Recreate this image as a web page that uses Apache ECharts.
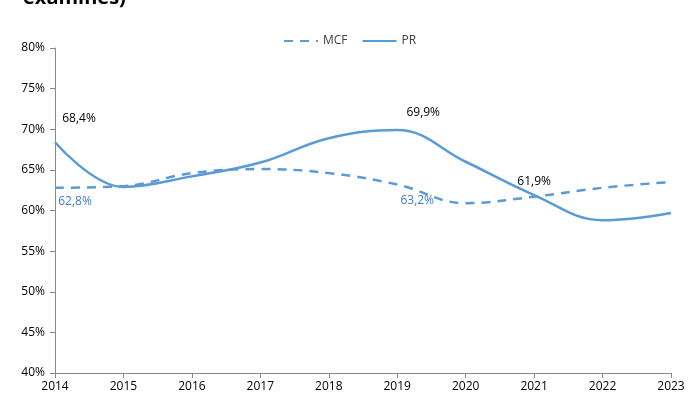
<!DOCTYPE html>
<html>
<head>
<meta charset="utf-8">
<script src="https://cdn.jsdelivr.net/npm/echarts@6/dist/echarts.min.js"></script>
<style>
  html, body { margin: 0; padding: 0; background: #fff; }
  #chart { width: 688px; height: 403px; }
</style>
</head>
<body>
<div id="chart"></div>
<script>
const years = ['2014', '2015', '2016', '2017', '2018', '2019', '2020', '2021', '2022', '2023'];
const mcfValues = [62.8, 63.0, 64.6, 65.1, 64.6, 63.2, 60.9, 61.7, 62.8, 63.5];
const prValues = [68.4, 62.9, 64.2, 65.9, 68.9, 69.9, 66.0, 61.9, 58.8, 59.7];
// which points carry a value label
const mcfLabelAt = [0, 5];
const prLabelAt = [0, 5, 7];

const blue = '#5B9BD5';
const fontFamily = '"Open Sans", "Noto Sans", sans-serif';

function fmt(v) {
  return v.toFixed(1).replace('.', ',') + '%';
}

function withLabels(values, idxs, labelStyle) {
  return values.map((v, i) => {
    if (idxs.indexOf(i) < 0) return v;
    return { value: v, label: Object.assign({ show: true, formatter: p => fmt(p.value) }, labelStyle(i)) };
  });
}

const chart = echarts.init(document.getElementById('chart'));

chart.setOption({
  backgroundColor: '#fff',
  animation: false,
  title: {
    text: 'examines)',
    left: 18,
    top: -17,
    textStyle: { color: '#000', fontSize: 20, fontWeight: 'bold', fontFamily: fontFamily }
  },
  legend: {
    top: 30,
    left: 278,
    itemWidth: 34,
    itemHeight: 10,
    itemGap: 14,
    itemStyle: { opacity: 0 },
    textStyle: { color: '#404040', fontSize: 12, fontFamily: fontFamily },
    data: ['MCF', 'PR']
  },
  grid: { left: 55, right: 17, top: 48, bottom: 30 },
  xAxis: {
    type: 'category',
    data: years,
    boundaryGap: false,
    axisLine: { lineStyle: { color: '#898989' } },
    axisTick: { show: true, length: 5, lineStyle: { color: '#898989' } },
    axisLabel: { color: '#000', fontSize: 12, fontFamily: fontFamily, margin: 8 }
  },
  yAxis: {
    type: 'value',
    min: 40,
    max: 80,
    interval: 5,
    axisLine: { show: true, lineStyle: { color: '#898989' } },
    axisTick: { show: true, length: 5, lineStyle: { color: '#898989' } },
    splitLine: { show: false },
    axisLabel: { color: '#000', fontSize: 12, fontFamily: fontFamily, formatter: '{value}%', margin: 10 }
  },
  series: [
    {
      name: 'MCF',
      type: 'line',
      smooth: 0.4,
      symbol: 'circle',
      symbolSize: 1,
      showSymbol: true,
      color: blue,
      itemStyle: { color: 'rgba(0,0,0,0)', borderWidth: 0 },
      lineStyle: { width: 2.5, type: [9, 7], color: blue },
      label: { color: '#3F7BBF', fontSize: 12, fontFamily: fontFamily },
      data: withLabels(mcfValues, mcfLabelAt, i => ({
        position: 'bottom',
        offset: i === 0 ? [20, 2] : [20, 5]
      }))
    },
    {
      name: 'PR',
      type: 'line',
      smooth: 0.4,
      symbol: 'circle',
      symbolSize: 1,
      showSymbol: true,
      color: blue,
      itemStyle: { color: 'rgba(0,0,0,0)', borderWidth: 0 },
      lineStyle: { width: 2.5, color: blue },
      label: { color: '#000', fontSize: 12, fontFamily: fontFamily },
      data: withLabels(prValues, prLabelAt, i => ({
        position: 'top',
        offset: i === 0 ? [24, -12] : (i === 5 ? [26, -6] : [0, -2])
      }))
    }
  ]
});
</script>
</body>
</html>
